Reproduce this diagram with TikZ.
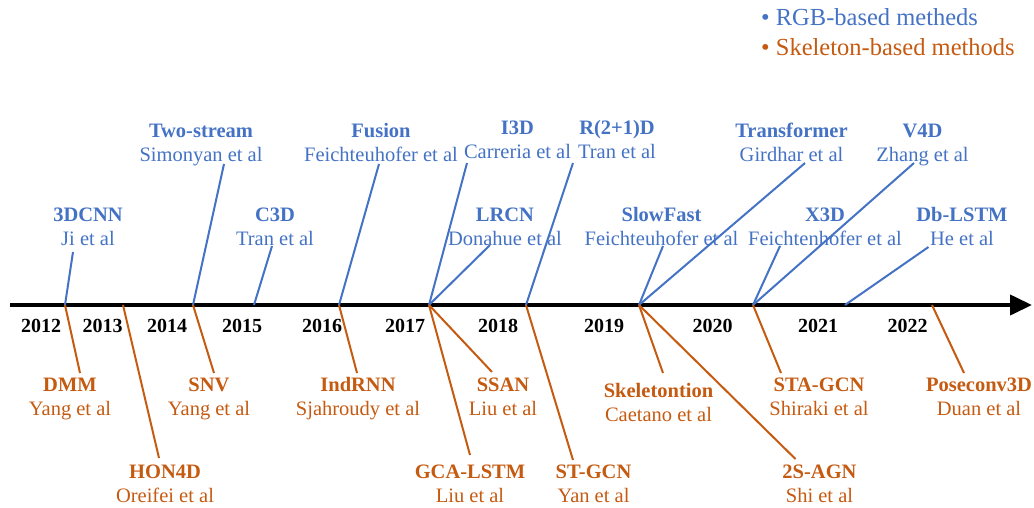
\documentclass[tikz,border=0pt]{standalone}
\usepackage{fontspec}
\setmainfont{Liberation Serif}
\usetikzlibrary{arrows.meta,positioning}
\definecolor{rgbblue}{HTML}{4472C4}
\definecolor{skelorange}{HTML}{C55A11}

\begin{document}
\begin{tikzpicture}[x=1pt, y=-1pt,
    method/.style={font=\fontsize{20.5}{24}\selectfont\bfseries, inner sep=0pt, anchor=base},
    author/.style={font=\fontsize{20.5}{24}\selectfont, inner sep=0pt, anchor=base},
    yearlbl/.style={font=\fontsize{20}{24}\selectfont\bfseries, inner sep=0pt, anchor=base},
    legend/.style={font=\fontsize{24.5}{28}\selectfont, inner sep=0pt, anchor=base west},
    rgb/.style={text=rgbblue},
    skel/.style={text=skelorange},
    rgbline/.style={draw=rgbblue, line width=2pt},
    skelline/.style={draw=skelorange, line width=2pt}]

    % 1. Canvas (pixel units, y downwards)
    \useasboundingbox (0,0) rectangle (1034,507);

    % 2. Legend
    \node[legend, rgb] (legrgb) at (761,25) {• RGB-based metheds};
    \node[legend, skel] (legskel) at (761,55) {• Skeleton-based methods};

    % 3. Time axis with years
    \coordinate (axL) at (10,305);
    \coordinate (axR) at (1032,305);
    \draw[line width=4pt, -{Triangle[length=22pt, width=20pt]}] (axL) -- (axR);
    \node[yearlbl] (y2012) at (41,332) {2012};
    \node[yearlbl] (y2013) at (102.5,332) {2013};
    \node[yearlbl] (y2014) at (167,332) {2014};
    \node[yearlbl] (y2015) at (242,332) {2015};
    \node[yearlbl] (y2016) at (322,332) {2016};
    \node[yearlbl] (y2017) at (405,332) {2017};
    \node[yearlbl] (y2018) at (498,332) {2018};
    \node[yearlbl] (y2019) at (604,332) {2019};
    \node[yearlbl] (y2020) at (712.5,332) {2020};
    \node[yearlbl] (y2021) at (818,332) {2021};
    \node[yearlbl] (y2022) at (907.5,332) {2022};

    % Points on the axis where the leaders start
    \coordinate (p1) at (65,305);
    \coordinate (p2) at (123,305);
    \coordinate (p3) at (193,305);
    \coordinate (p4) at (254,305);
    \coordinate (p5) at (339,305);
    \coordinate (p6) at (429,305);
    \coordinate (p7) at (526,305);
    \coordinate (p8) at (639,305);
    \coordinate (p9) at (753,305);
    \coordinate (p10) at (845,305);
    \coordinate (p11) at (932,305);

    % 4. RGB-based methods (above the axis)
    \node[method, rgb] (t3dcnn) at (88,221) {3DCNN};
    \node[author, rgb, below=24pt of t3dcnn.base, anchor=base] (a3dcnn) {Ji et al};
    \coordinate (e3dcnn) at (73,252);
    \draw[rgbline] (p1) -- (e3dcnn);

    \node[method, rgb] (ttwostream) at (201,137) {Two-stream};
    \node[author, rgb, below=24pt of ttwostream.base, anchor=base] (atwostream) {Simonyan et al};
    \coordinate (etwostream) at (224,164);
    \draw[rgbline] (p3) -- (etwostream);

    \node[method, rgb] (tc3d) at (275,221) {C3D};
    \node[author, rgb, below=24pt of tc3d.base, anchor=base] (ac3d) {Tran et al};
    \coordinate (ec3d) at (272,246);
    \draw[rgbline] (p4) -- (ec3d);

    \node[method, rgb] (tfusion) at (381,137) {Fusion};
    \node[author, rgb, below=24pt of tfusion.base, anchor=base] (afusion) {Feichteuhofer et al};
    \coordinate (efusion) at (379,164);
    \draw[rgbline] (p5) -- (efusion);

    \node[method, rgb] (ti3d) at (517.5,134) {I3D};
    \node[author, rgb, below=24pt of ti3d.base, anchor=base] (ai3d) {Carreria et al};
    \coordinate (ei3d) at (467,163);
    \draw[rgbline] (p6) -- (ei3d);

    \node[method, rgb] (tlrcn) at (505,221) {LRCN};
    \node[author, rgb, below=24pt of tlrcn.base, anchor=base] (alrcn) {Donahue et al};
    \coordinate (elrcn) at (490,245);
    \draw[rgbline] (p6) -- (elrcn);

    \node[method, rgb] (tr21d) at (617,134) {R(2+1)D};
    \node[author, rgb, below=24pt of tr21d.base, anchor=base] (ar21d) {Tran et al};
    \coordinate (er21d) at (573,163);
    \draw[rgbline] (p7) -- (er21d);

    \node[method, rgb] (tslowfast) at (661.5,221) {SlowFast};
    \node[author, rgb, below=24pt of tslowfast.base, anchor=base] (aslowfast) {Feichteuhofer et al};
    \coordinate (eslowfast) at (663,246);
    \draw[rgbline] (p8) -- (eslowfast);

    \node[method, rgb] (ttransformer) at (791.5,137) {Transformer};
    \node[author, rgb, below=24pt of ttransformer.base, anchor=base] (atransformer) {Girdhar et al};
    \coordinate (etransformer) at (805,163);
    \draw[rgbline] (p8) -- (etransformer);

    \node[method, rgb] (tx3d) at (825,221) {X3D};
    \node[author, rgb, below=24pt of tx3d.base, anchor=base] (ax3d) {Feichtenhofer et al};
    \coordinate (ex3d) at (780,246);
    \draw[rgbline] (p9) -- (ex3d);

    \node[method, rgb] (tv4d) at (922.5,137) {V4D};
    \node[author, rgb, below=24pt of tv4d.base, anchor=base] (av4d) {Zhang et al};
    \coordinate (ev4d) at (914,163);
    \draw[rgbline] (p9) -- (ev4d);

    \node[method, rgb] (tdblstm) at (962,221) {Db-LSTM};
    \node[author, rgb, below=24pt of tdblstm.base, anchor=base] (adblstm) {He et al};
    \coordinate (edblstm) at (928.5,247);
    \draw[rgbline] (p10) -- (edblstm);

    % 5. Skeleton-based methods (below the axis)
    \node[method, skel] (tdmm) at (70,391) {DMM};
    \node[author, skel, below=24pt of tdmm.base, anchor=base] (admm) {Yang et al};
    \coordinate (edmm) at (80,373);
    \draw[skelline] (p1) -- (edmm);

    \node[method, skel] (thon4d) at (165,478) {HON4D};
    \node[author, skel, below=24pt of thon4d.base, anchor=base] (ahon4d) {Oreifei et al};
    \coordinate (ehon4d) at (159,458);
    \draw[skelline] (p2) -- (ehon4d);

    \node[method, skel] (tsnv) at (209,391) {SNV};
    \node[author, skel, below=24pt of tsnv.base, anchor=base] (asnv) {Yang et al};
    \coordinate (esnv) at (214,373);
    \draw[skelline] (p3) -- (esnv);

    \node[method, skel] (tindrnn) at (358,391) {IndRNN};
    \node[author, skel, below=24pt of tindrnn.base, anchor=base] (aindrnn) {Sjahroudy et al};
    \coordinate (eindrnn) at (357,373);
    \draw[skelline] (p5) -- (eindrnn);

    \node[method, skel] (tssan) at (503,391) {SSAN};
    \node[author, skel, below=24pt of tssan.base, anchor=base] (assan) {Liu et al};
    \coordinate (essan) at (492,372);
    \draw[skelline] (p6) -- (essan);

    \node[method, skel] (tgca) at (470,478) {GCA-LSTM};
    \node[author, skel, below=24pt of tgca.base, anchor=base] (agca) {Liu et al};
    \coordinate (egca) at (470,455);
    \draw[skelline] (p6) -- (egca);

    \node[method, skel] (tstgcn) at (593.5,478) {ST-GCN};
    \node[author, skel, below=24pt of tstgcn.base, anchor=base] (astgcn) {Yan et al};
    \coordinate (estgcn) at (573,460);
    \draw[skelline] (p7) -- (estgcn);

    \node[method, skel] (tskel) at (658.5,397) {Skeletontion};
    \node[author, skel, below=24pt of tskel.base, anchor=base] (askel) {Caetano et al};
    \coordinate (eskel) at (663,373);
    \draw[skelline] (p8) -- (eskel);

    \node[method, skel] (t2sagn) at (819.5,478) {2S-AGN};
    \node[author, skel, below=24pt of t2sagn.base, anchor=base] (a2sagn) {Shi et al};
    \coordinate (e2sagn) at (795.5,459);
    \draw[skelline] (p8) -- (e2sagn);

    \node[method, skel] (tstagcn) at (819,391) {STA-GCN};
    \node[author, skel, below=24pt of tstagcn.base, anchor=base] (astagcn) {Shiraki et al};
    \coordinate (estagcn) at (781,373);
    \draw[skelline] (p9) -- (estagcn);

    \node[method, skel] (tposec) at (979,391) {Poseconv3D};
    \node[author, skel, below=24pt of tposec.base, anchor=base] (aposec) {Duan et al};
    \coordinate (eposec) at (964,373);
    \draw[skelline] (p11) -- (eposec);

\end{tikzpicture}
\end{document}
